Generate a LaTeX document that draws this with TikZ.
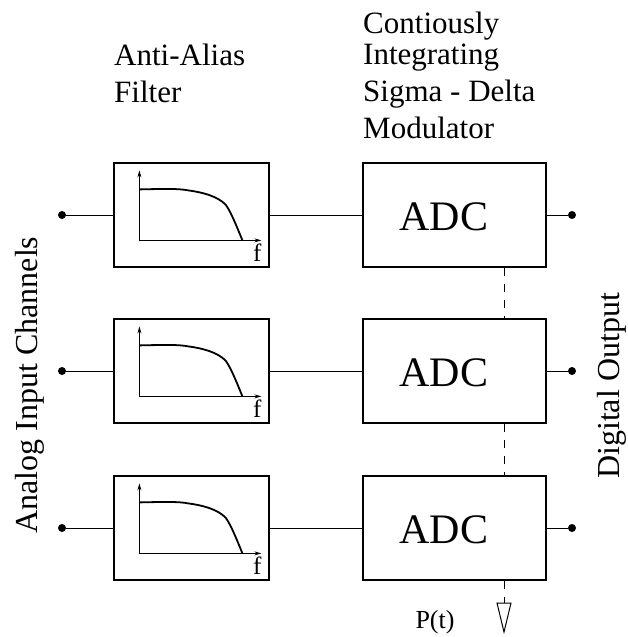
\documentclass[tikz,border=0pt]{standalone}
\usepackage{fontspec}
\setmainfont{Liberation Serif}
\usetikzlibrary{arrows.meta,calc}

\tikzset{
  label/.style={font=\fontsize{31}{31}\selectfont, inner sep=0pt},
  sidelabel/.style={font=\fontsize{32}{32}\selectfont, inner sep=0pt, rotate=90, anchor=base},
  filterbox/.style={draw, line width=1.2pt, minimum width=155pt, minimum height=104pt, inner sep=0pt},
  adcbox/.style={draw, line width=1.2pt, minimum width=183pt, minimum height=104pt, inner sep=0pt},
  adctext/.style={font=\fontsize{42}{42}\selectfont, inner sep=0pt, anchor=base},
  wire/.style={line width=1pt},
  clockline/.style={line width=1pt, dash pattern=on 8pt off 8pt},
  terminal/.style={circle, fill, inner sep=0pt, minimum size=8pt},
  axis/.style={line width=0.9pt, -{Stealth[length=7pt,width=4pt]}},
  response/.style={line width=1.8pt},
}

% Low-pass response sketch inside a filter box (origin at the box's north-west corner)
\newcommand{\lowpass}[1]{%
  \begin{scope}[shift={(#1.north west)}]
    \draw[axis] (26,79) -- (26,8);
    \draw[axis] (26,78) -- (148,78);
    \draw[response] (26,27) .. controls (50,26.5) and (65,26) .. (75,28)
      .. controls (90,30) and (104,34) .. (112,42)
      .. controls (116,47) and (121,58) .. (129,78);
    \node[font=\fontsize{25}{25}\selectfont, inner sep=0pt, anchor=base] at (144,99) {f};
  \end{scope}}

\begin{document}
\begin{tikzpicture}[x=1pt, y=-1pt]
  \useasboundingbox (0,0) rectangle (628,637);

  % column headings
  \node[label, anchor=base west] (h1) at (114,65) {Anti-Alias};
  \node[label, anchor=base west] (h2) at (114,102) {Filter};
  \node[label, anchor=base west] (h3) at (363,33) {Contiously};
  \node[label, anchor=base west] (h4) at (363,64) {Integrating};
  \node[label, anchor=base west] (h5) at (363,101) {Sigma - Delta};
  \node[label, anchor=base west] (h6) at (363,138) {Modulator};

  % side captions
  \node[sidelabel] (inlbl) at (37,385) {Analog Input Channels};
  \node[sidelabel] (outlbl) at (619,386) {Digital Output};

  % three channels
  \foreach \i/\y in {1/215, 2/371, 3/528} {
    \node[filterbox] (f\i) at (191.5,\y) {};
    \node[adcbox] (a\i) at (454.5,\y) {};
    \node[adctext] (t\i) at (444,\y+15) {ADC};
    \node[terminal] (in\i) at (62,\y) {};
    \node[terminal] (out\i) at (572,\y) {};
    \draw[wire] (in\i) -- (f\i.west);
    \draw[wire] (f\i.east) -- (a\i.west);
    \draw[wire] (a\i.east) -- (out\i);
    \lowpass{f\i}
  }

  % shared clock P(t)
  \coordinate (clk) at (504,603);
  \draw[clockline] (a1.south -| clk) -- (a2.north -| clk);
  \draw[clockline] (a2.south -| clk) -- (a3.north -| clk);
  \draw[clockline] (a3.south -| clk) -- (clk);
  \draw[line width=1pt, fill=white] ($(clk)+(-7,0)$) -- ($(clk)+(7,0)$) -- ($(clk)+(0,29)$) -- cycle;
  \node[font=\fontsize{26}{26}\selectfont, inner sep=0pt, anchor=base] (pt) at (435,628) {P(t)};
\end{tikzpicture}
\end{document}
